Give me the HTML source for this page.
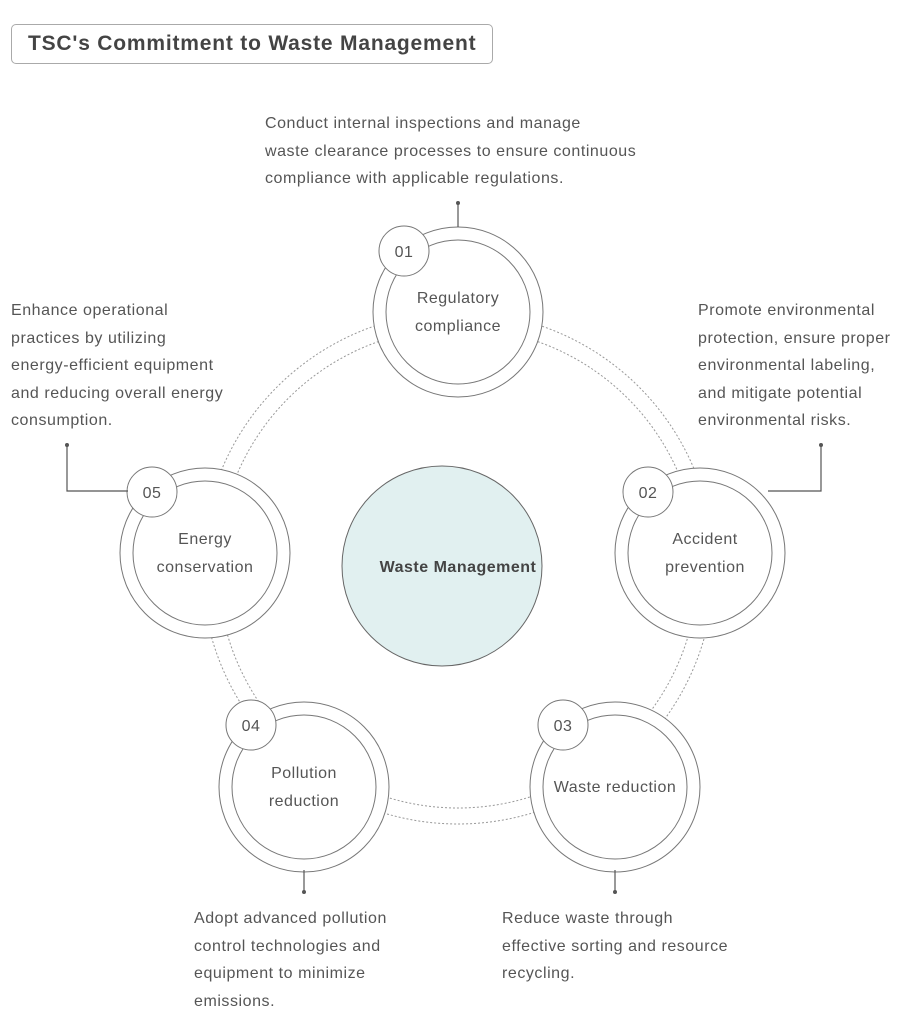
<!DOCTYPE html>
<html><head><style>
body{margin:0;width:915px;height:1024px;background:#fff;font-family:"Liberation Sans",sans-serif;color:#555;position:relative;overflow:hidden}
.t{position:absolute;font-size:16px;line-height:27.5px;color:#555;letter-spacing:0.55px;white-space:nowrap}
.title{position:absolute;left:11px;top:24px;width:482px;height:40px;border:1px solid #aaa;border-radius:5px;box-sizing:border-box;font-weight:bold;font-size:21px;letter-spacing:0.8px;line-height:38px;padding-left:16px;color:#444;white-space:nowrap}
</style></head><body>
<div class="title">TSC's Commitment to Waste Management</div>
<svg width="915" height="1024" style="position:absolute;left:0;top:0">
<g fill="none" stroke="#999" stroke-width="1" stroke-dasharray="2,2">
<circle cx="458" cy="568" r="240"/>
<circle cx="458" cy="568" r="256"/>
</g>
<circle cx="442" cy="566" r="100" fill="#e1f0f0" stroke="#666" stroke-width="1"/>
<g fill="#fff" stroke="#777" stroke-width="1">
<circle cx="458" cy="312" r="85"/><circle cx="458" cy="312" r="72"/>
<circle cx="700" cy="553" r="85"/><circle cx="700" cy="553" r="72"/>
<circle cx="615" cy="787" r="85"/><circle cx="615" cy="787" r="72"/>
<circle cx="304" cy="787" r="85"/><circle cx="304" cy="787" r="72"/>
<circle cx="205" cy="553" r="85"/><circle cx="205" cy="553" r="72"/>
<circle cx="404" cy="251" r="25"/>
<circle cx="648" cy="492" r="25"/>
<circle cx="563" cy="725" r="25"/>
<circle cx="251" cy="725" r="25"/>
<circle cx="152" cy="492" r="25"/>
</g>
<g stroke="#555" stroke-width="1.2" fill="none">
<path d="M458 203V227"/>
<path d="M821 445V491H768"/>
<path d="M67 445V491H128"/>
<path d="M615 870V892"/>
<path d="M304 870V892"/>
</g>
<g fill="#555">
<circle cx="458" cy="203" r="2"/><circle cx="821" cy="445" r="2"/><circle cx="67" cy="445" r="2"/><circle cx="615" cy="892" r="2"/><circle cx="304" cy="892" r="2"/>
</g>
<g font-family="Liberation Sans,sans-serif" font-size="16" fill="#555" text-anchor="middle" letter-spacing="0.5">
<text x="404" y="257">01</text><text x="648" y="498">02</text><text x="563" y="731">03</text><text x="251" y="731">04</text><text x="152" y="498">05</text>
<text x="458" y="303">Regulatory</text><text x="458" y="331">compliance</text>
<text x="705" y="544">Accident</text><text x="705" y="572">prevention</text>
<text x="615" y="792">Waste reduction</text>
<text x="304" y="778">Pollution</text><text x="304" y="806">reduction</text>
<text x="205" y="544">Energy</text><text x="205" y="572">conservation</text>
<text x="458" y="572" font-weight="bold" fill="#444">Waste Management</text>
</g>
</svg>
<div class="t" style="left:265px;top:110px">Conduct internal inspections and manage<br>waste clearance processes to ensure continuous<br>compliance with applicable regulations.</div>
<div class="t" style="left:698px;top:297px">Promote environmental<br>protection, ensure proper<br>environmental labeling,<br>and mitigate potential<br>environmental risks.</div>
<div class="t" style="left:11px;top:297px">Enhance operational<br>practices by utilizing<br>energy-efficient equipment<br>and reducing overall energy<br>consumption.</div>
<div class="t" style="left:502px;top:905px">Reduce waste through<br>effective sorting and resource<br>recycling.</div>
<div class="t" style="left:194px;top:905px">Adopt advanced pollution<br>control technologies and<br>equipment to minimize<br>emissions.</div>
</body></html>
